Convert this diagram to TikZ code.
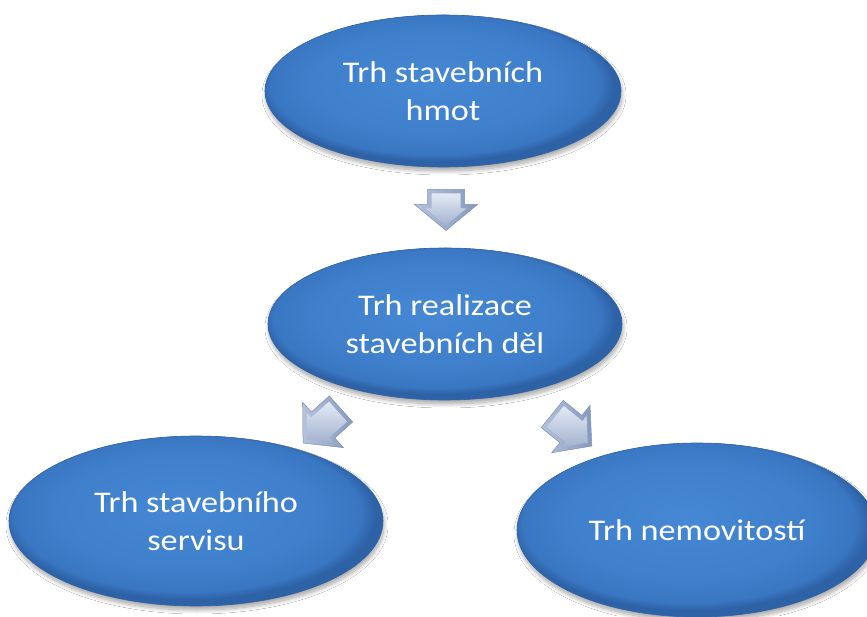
\documentclass[tikz,border=0pt]{standalone}
\usepackage{fontspec}
\setmainfont[FakeStretch=1.14]{Carlito}
\usetikzlibrary{shapes.geometric,shadows.blur,calc}
\definecolor{ellA}{HTML}{4688D4}
\definecolor{ellB}{HTML}{3F7FCB}
\definecolor{ellC}{HTML}{3A77C3}
\definecolor{ellD}{HTML}{2E62A6}
\definecolor{arrLine}{HTML}{7F91B3}
\definecolor{arrL}{HTML}{B4C2DC}
\definecolor{arrR}{HTML}{8799BC}
\definecolor{arrT}{HTML}{E3EAF5}
\definecolor{arrB}{HTML}{A3B2CF}
\pgfdeclareradialshading{ellshade}{\pgfpoint{-2bp}{4bp}}{color(0bp)=(ellA); color(17bp)=(ellB); color(23bp)=(ellC); color(25bp)=(ellD); color(50bp)=(ellD)}
\tikzset{
  bubble/.style={ellipse, shading=ellshade, draw=ellD, line width=0.6pt,
    text=white, align=center, inner sep=0pt,
    font=\fontsize{30}{38.5}\selectfont,
    blur shadow={shadow xshift=1pt, shadow yshift=-4pt, shadow blur steps=12, shadow opacity=35, shadow blur radius=4pt}},
  arrowouter/.style={draw=arrLine, line width=0.5pt, left color=arrL, right color=arrR},
  arrowinner/.style={top color=arrT, bottom color=arrB},
  diagarrow/.pic={
    \path[arrowouter] (-25.5,-17.5) -- (-1.5,-17.5) -- (-1.5,-30.5) -- (25.5,0) -- (-1.5,30.5) -- (-1.5,17.5) -- (-25.5,17.5) -- cycle;
    \path[arrowinner] (-21.5,-13.5) -- (2.5,-13.5) -- (2.5,-20) -- (20.2,0) -- (2.5,20) -- (2.5,13.5) -- (-21.5,13.5) -- cycle;
  },
  downarrow/.pic={
    \path[arrowouter] (-20.5,-18.5) -- (-5.5,-18.5) -- (-5.5,-31.5) -- (20.5,0) -- (-5.5,31.5) -- (-5.5,18.5) -- (-20.5,18.5) -- cycle;
    \path[arrowinner] (-16.5,-14.5) -- (-1.5,-14.5) -- (-1.5,-20.3) -- (15.3,0) -- (-1.5,20.3) -- (-1.5,14.5) -- (-16.5,14.5) -- cycle;
  }
}
\begin{document}
\begin{tikzpicture}[x=1pt,y=1pt]
  \useasboundingbox[fill=white] (0,0) rectangle (867,616);
  \node[bubble, minimum width=356, minimum height=152] (top) at (443,525) {Trh stavebních\\hmot};
  \node[bubble, minimum width=354, minimum height=152] (mid) at (445,292) {Trh realizace\\stavebních děl};
  \node[bubble, minimum width=374, minimum height=170] (bl) at (196,95) {Trh stavebního\\servisu};
  \node[bubble, minimum width=360, minimum height=174] (br) at (697,86) {Trh nemovitostí};
  \coordinate (a1) at (446,406);
  \coordinate (a2) at (322,190);
  \coordinate (a3) at (572,186);
  \pic[rotate=-90] at (a1) {downarrow};
  \pic[rotate=222] at (a2) {diagarrow};
  \pic[rotate=-39] at (a3) {diagarrow};
\end{tikzpicture}
\end{document}
